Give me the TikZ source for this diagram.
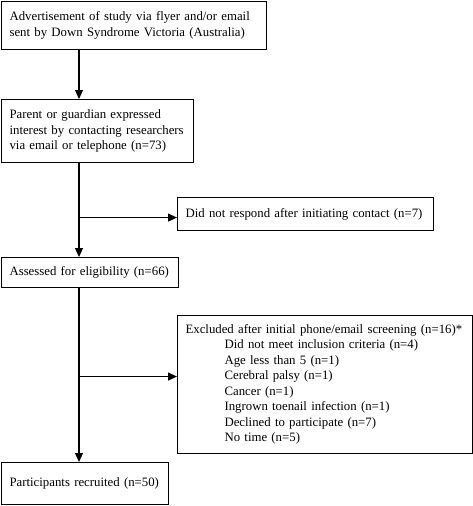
\documentclass[tikz,border=0pt]{standalone}
\usepackage{fontspec}
\setmainfont{Liberation Serif}
\usetikzlibrary{arrows.meta}
\begin{document}
\begin{tikzpicture}[x=1pt,y=-1pt,
  box/.style={draw, line width=1.1pt, anchor=north west, align=left, inner xsep=8pt, inner ysep=0pt, font=\fontsize{12.8}{15.5}\selectfont},
  arr/.style={line width=1.1pt, -{Triangle[width=8pt,length=9pt]}}]
\useasboundingbox (0,0) rectangle (473,506);
\node[box, minimum width=265pt, minimum height=48pt, text width=249pt] (box1) at (1,1)
  {Advertisement of study via flyer and/or email\\sent by Down Syndrome Victoria (Australia)};
\node[box, minimum width=192pt, minimum height=63pt, text width=176pt] (box2) at (1,99)
  {Parent or guardian expressed\\interest by contacting researchers\\via email or telephone (n=73)};
\node[box, minimum width=256pt, minimum height=33pt, text width=240pt] (side1) at (177,197)
  {Did not respond after initiating contact (n=7)};
\node[box, minimum width=177pt, minimum height=30pt, text width=161pt] (box3) at (1,257)
  {Assessed for eligibility (n=66)};
\node[box, minimum width=295pt, minimum height=138pt, text width=279pt] (side2) at (177,315)
  {Excluded after initial phone/email screening (n=16)*\\
  \hspace*{39pt}Did not meet inclusion criteria (n=4)\\
  \hspace*{39pt}Age less than 5 (n=1)\\
  \hspace*{39pt}Cerebral palsy (n=1)\\
  \hspace*{39pt}Cancer (n=1)\\
  \hspace*{39pt}Ingrown toenail infection (n=1)\\
  \hspace*{39pt}Declined to participate (n=7)\\
  \hspace*{39pt}No time (n=5)};
\node[box, minimum width=167pt, minimum height=42pt, text width=151pt] (box4) at (1,462)
  {Participants recruited (n=50)};
\coordinate (a1) at ([xshift=78pt]box1.south west);
\coordinate (a2) at ([xshift=78pt]box2.south west);
\coordinate (a3) at ([xshift=78pt]box3.south west);
\coordinate (b1) at ([yshift=-3.5pt]side1.west);
\coordinate (b2) at ([yshift=8pt]side2.west);
\draw[arr] (a1) -- (a1 |- box2.north);
\draw[arr] (a2) -- (a2 |- box3.north);
\draw[arr] (a2 |- b1) -- (b1);
\draw[arr] (a3) -- (a3 |- box4.north);
\draw[arr] (a3 |- b2) -- (b2);
\end{tikzpicture}
\end{document}
